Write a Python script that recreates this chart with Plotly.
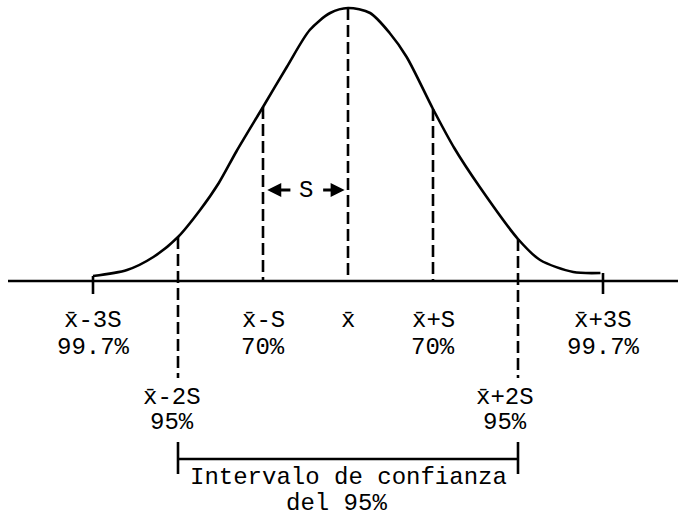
import numpy as np
import plotly.graph_objects as go

# Bell curve, read as (offset in S units, height) pairs
curve_u = [-3.0, -2.6, -2.29, -2.0, -1.74, -1.52, -1.31, -1.0, -0.72, -0.45,
           -0.21, 0.0, 0.26, 0.49, 0.69, 1.0, 1.25, 1.55, 2.0, 2.26, 2.65, 2.97]
curve_h = [5, 11, 24, 44, 71, 98, 130, 174, 214, 251,
           268, 273, 268, 248, 224, 172, 133, 94, 42, 21, 9, 8]

# Marked positions along the axis and their labels
sigma_marks = [-3, -2, -1, 0, 1, 2, 3]
mark_labels = ["x\u0304-3S", "x\u0304-2S", "x\u0304-S", "x\u0304",
               "x\u0304+S", "x\u0304+2S", "x\u0304+3S"]
mark_pcts = ["99.7%", "95%", "70%", "", "70%", "95%", "99.7%"]
interval_text = ["Intervalo de confianza", "del 95%"]

# ---- layout constants (pixel-like units: 85 px per S, axis at h=0) ----
PX_PER_S = 85.0
X_RANGE = [-348 / PX_PER_S, (678 - 348) / PX_PER_S]
Y_RANGE = [-236, 281]
FONT = dict(family="Liberation Mono, Courier New, monospace", size=24, color="black")
LW = 2.6
DASH = "12px,5px"

fig = go.Figure()

def seg(x0, y0, x1, y1, dash=None, width=LW):
    fig.add_shape(type="line", x0=x0, y0=y0, x1=x1, y1=y1, xref="x", yref="y",
                  line=dict(color="black", width=width, dash=dash))

# horizontal axis
seg(8 / PX_PER_S + X_RANGE[0], 0, X_RANGE[1], 0)

# the curve itself
fig.add_trace(go.Scatter(x=curve_u, y=curve_h, mode="lines",
                         line=dict(color="black", width=LW, shape="spline", smoothing=0.8),
                         hoverinfo="skip", showlegend=False))

def curve_at(u):
    return float(np.interp(u, curve_u, curve_h))

# drop lines from the curve
for m in sigma_marks:
    top = curve_at(m)
    if abs(m) == 3:
        seg(m, top, m, -13)                 # solid end ticks
    elif abs(m) == 2:
        seg(m, top, m, -97, dash=DASH)      # long dashed drops
    else:
        seg(m, top, m, 0, dash=DASH)

# axis labels
for m, lab, pct in zip(sigma_marks, mark_labels, mark_pcts):
    if abs(m) == 2:
        dx = -0.07 if m < 0 else -0.155
        ly, py = -116, -141
    else:
        dx, ly, py = 0, -39, -66
    fig.add_annotation(x=m + dx, y=ly, text=lab, showarrow=False, font=FONT,
                       xanchor="center", yanchor="middle")
    if pct:
        fig.add_annotation(x=m + dx, y=py, text=pct, showarrow=False, font=FONT,
                           xanchor="center", yanchor="middle")

# 95% interval bracket
seg(-2, -178, 2, -178)
seg(-2, -161, -2, -193)
seg(2, -161, 2, -193)
fig.add_annotation(x=0, y=-196, text=interval_text[0], showarrow=False, font=FONT,
                   xanchor="center", yanchor="middle", borderpad=0)
fig.add_annotation(x=-0.13, y=-222, text=interval_text[1], showarrow=False, font=FONT,
                   xanchor="center", yanchor="middle", borderpad=0)

# "<- S ->" width marker between x̄-S and x̄
fig.add_annotation(x=-0.50, y=91, text="S", showarrow=False, font=FONT,
                   xanchor="center", yanchor="middle")
for head, tail in [(-0.95, -0.66), (-0.04, -0.31)]:
    fig.add_annotation(x=head, y=91, ax=tail, ay=91, axref="x", ayref="y",
                       xref="x", yref="y", text="", showarrow=True,
                       arrowhead=2, arrowsize=1.0, arrowwidth=2.8, arrowcolor="black")

fig.update_xaxes(range=X_RANGE, visible=False, fixedrange=True)
fig.update_yaxes(range=Y_RANGE, visible=False, fixedrange=True)
fig.update_layout(width=678, height=517, margin=dict(l=0, r=0, t=0, b=0),
                  paper_bgcolor="white", plot_bgcolor="white", showlegend=False)

fig.write_html("out.html")
